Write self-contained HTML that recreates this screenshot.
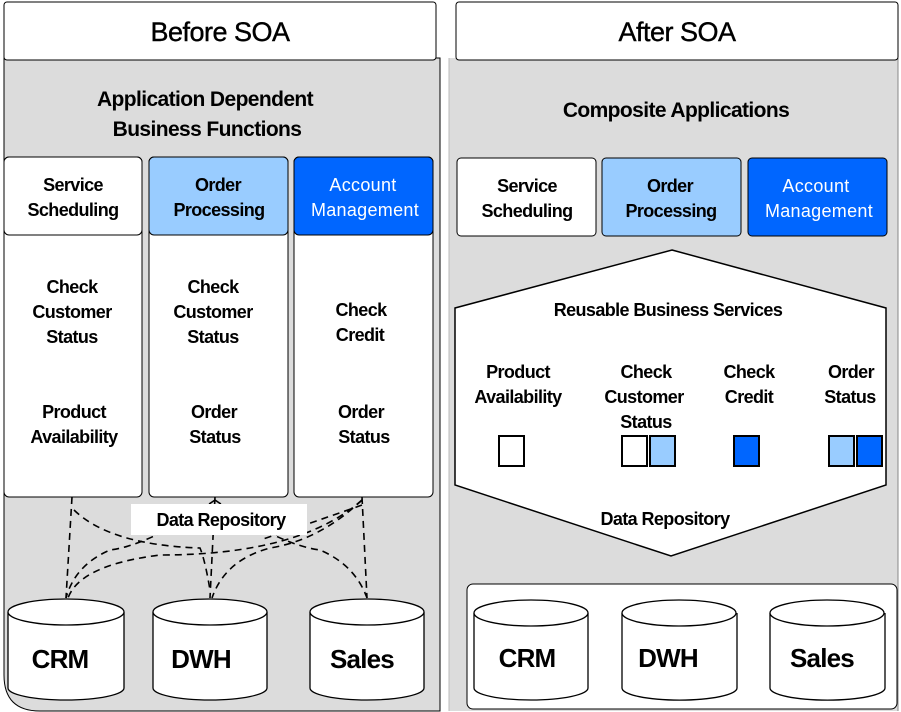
<!DOCTYPE html>
<html><head><meta charset="utf-8"><style>
html,body{margin:0;padding:0;background:#fff;width:901px;height:712px;overflow:hidden}
svg{display:block}
text{font-family:"Liberation Sans",Arial,sans-serif;text-anchor:middle;fill:#000}
.b{font-weight:bold;font-size:18px;letter-spacing:-0.6px}
.w{font-size:18px;fill:#fff;letter-spacing:0.3px}
.c{font-weight:bold;font-size:26px;letter-spacing:-0.8px}
</style></head><body>
<svg width="901" height="712" viewBox="0 0 901 712" xmlns="http://www.w3.org/2000/svg">
<path d="M4 58 H440 V711 H40 Q4 711 4 675 Z" fill="#dcdcdc" stroke="#000" stroke-width="1"/>
<rect x="449" y="58" width="449" height="653" fill="#dcdcdc"/>
<line x1="449" y1="58" x2="449" y2="711" stroke="#bbb"/>
<line x1="898" y1="58" x2="898" y2="711" stroke="#888"/>
<rect x="4" y="2" width="432" height="58" rx="3" fill="#fff" stroke="#000"/>
<rect x="456" y="2" width="442" height="58" rx="3" fill="#fff" stroke="#000"/>
<text x="220" y="41" font-size="27" style="letter-spacing:-0.5px;stroke:#000;stroke-width:0.4">Before SOA</text>
<text x="677" y="41" font-size="27" style="letter-spacing:-0.5px;stroke:#000;stroke-width:0.4">After SOA</text>
<text class="b" x="205" y="106" style="font-size:21px">Application Dependent</text>
<text class="b" x="207" y="136" style="font-size:21px">Business Functions</text>
<text class="b" x="676" y="117" style="font-size:21px">Composite Applications</text>
<rect x="4" y="157" width="138" height="340" rx="5" fill="#fff" stroke="#000"/>
<rect x="149" y="157" width="139" height="340" rx="5" fill="#fff" stroke="#000"/>
<rect x="294" y="157" width="139" height="340" rx="5" fill="#fff" stroke="#000"/>
<rect x="4" y="157" width="138" height="78" rx="5" fill="#fff" stroke="#000"/>
<rect x="149" y="157" width="139" height="78" rx="5" fill="#99ccff" stroke="#000"/>
<rect x="294" y="157" width="139" height="78" rx="5" fill="#0066ff" stroke="#000"/>
<text class="b" x="73" y="191">Service</text><text class="b" x="73" y="216">Scheduling</text>
<text class="b" x="218" y="191">Order</text><text class="b" x="219" y="216">Processing</text>
<text class="w" x="363" y="191">Account</text><text class="w" x="365" y="216">Management</text>
<text class="b" x="72" y="293">Check</text><text class="b" x="72" y="318">Customer</text><text class="b" x="72" y="343">Status</text>
<text class="b" x="213" y="293">Check</text><text class="b" x="213" y="318">Customer</text><text class="b" x="213" y="343">Status</text>
<text class="b" x="361" y="316">Check</text><text class="b" x="360" y="341">Credit</text>
<text class="b" x="74" y="418">Product</text><text class="b" x="74" y="443">Availability</text>
<text class="b" x="214" y="418">Order</text><text class="b" x="215" y="443">Status</text>
<text class="b" x="361" y="418">Order</text><text class="b" x="364" y="443">Status</text>
<g fill="none" stroke="#000" stroke-width="1.6" stroke-dasharray="7,5">
<path d="M72 497 L66 598"/>
<path d="M215 497 L210 598"/>
<path d="M362 497 L367 598"/>
<path d="M74 510 Q110 545 200 548 Q205 560 210 590"/>
<path d="M215 500 Q150 545 110 550 Q75 565 66 598"/>
<path d="M215 500 Q280 545 320 550 Q355 565 367 598"/>
<path d="M362 500 Q300 555 160 555 Q80 565 68 598"/>
<path d="M362 500 Q320 540 270 548 Q225 560 212 598"/>
<path d="M362 505 Q320 520 260 540"/>
</g>
<rect x="131" y="504" width="176" height="31" fill="#fff"/>
<text class="b" x="221" y="526" style="font-size:18px">Data Repository</text>
<g fill="#fff" stroke="#000" stroke-width="1.3">
<path d="M8 612 V688 A58 12 0 0 0 124 688 V612"/><ellipse cx="66" cy="612" rx="58" ry="13"/>
<path d="M153 612 V688 A57 12 0 0 0 267 688 V612"/><ellipse cx="210" cy="612" rx="57" ry="13"/>
<path d="M310 612 V688 A57 12 0 0 0 424 688 V612"/><ellipse cx="367" cy="612" rx="57" ry="13"/>
</g>
<text class="c" x="60" y="668">CRM</text>
<text class="c" x="201" y="668">DWH</text>
<text class="c" x="362" y="668">Sales</text>
<rect x="457" y="158" width="139" height="78" rx="4" fill="#fff" stroke="#000"/>
<rect x="602" y="158" width="139" height="78" rx="4" fill="#99ccff" stroke="#000"/>
<rect x="748" y="158" width="139" height="78" rx="4" fill="#0066ff" stroke="#000"/>
<text class="b" x="527" y="192">Service</text><text class="b" x="527" y="217">Scheduling</text>
<text class="b" x="670" y="192">Order</text><text class="b" x="671" y="217">Processing</text>
<text class="w" x="816" y="192">Account</text><text class="w" x="819" y="217">Management</text>
<path d="M672 250 L886 308 V485 L671 556 L455 485 V308 Z" fill="#fff" stroke="#000" stroke-width="1.5"/>
<text class="b" x="668" y="316" style="font-size:18px">Reusable Business Services</text>
<text class="b" x="518" y="378">Product</text><text class="b" x="518" y="403">Availability</text>
<text class="b" x="646" y="378">Check</text><text class="b" x="644" y="403">Customer</text><text class="b" x="646" y="428">Status</text>
<text class="b" x="749" y="378">Check</text><text class="b" x="749" y="403">Credit</text>
<text class="b" x="851" y="378">Order</text><text class="b" x="850" y="403">Status</text>
<g stroke="#000" stroke-width="2">
<rect x="499" y="436" width="25" height="30" fill="#fff"/>
<rect x="622" y="436" width="25" height="30" fill="#fff"/>
<rect x="650" y="436" width="25" height="30" fill="#99ccff"/>
<rect x="734" y="436" width="25" height="30" fill="#0066ff"/>
<rect x="829" y="436" width="25" height="30" fill="#99ccff"/>
<rect x="857" y="436" width="25" height="30" fill="#0066ff"/>
</g>
<text class="b" x="665" y="525" style="font-size:18px">Data Repository</text>
<rect x="467" y="584" width="430" height="125" rx="6" fill="#fff" stroke="#000"/>
<g fill="#fff" stroke="#000" stroke-width="1.3">
<path d="M474 613 V688 A57 12 0 0 0 588 688 V613"/><ellipse cx="531" cy="613" rx="57" ry="13"/>
<path d="M622 613 V688 A57 12 0 0 0 737 688 V613"/><ellipse cx="679" cy="613" rx="57" ry="13"/>
<path d="M770 613 V688 A57 12 0 0 0 885 688 V613"/><ellipse cx="827" cy="613" rx="57" ry="13"/>
</g>
<text class="c" x="527" y="667">CRM</text>
<text class="c" x="668" y="667">DWH</text>
<text class="c" x="822" y="667">Sales</text>
</svg>
</body></html>
